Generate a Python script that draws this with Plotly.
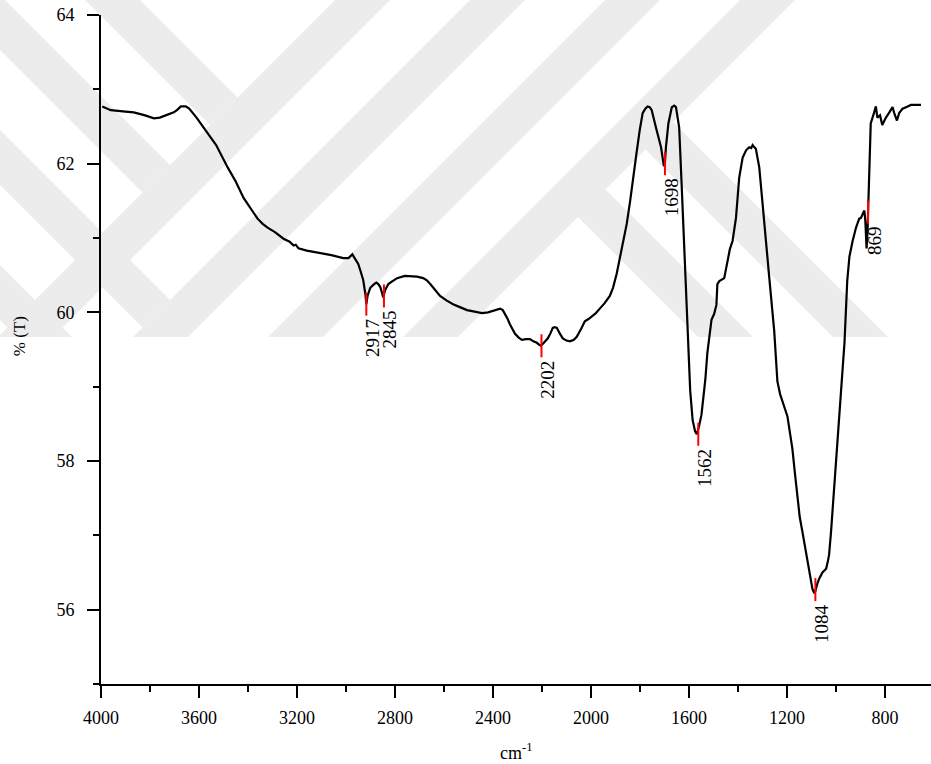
import plotly.graph_objects as go

# FTIR spectrum (wavenumber cm^-1, %T)
wavenumber = [
    3995, 3960, 3900, 3866, 3820, 3784, 3760, 3730, 3703, 3690, 3674, 3654, 3640, 3610,
    3565, 3530, 3483, 3450, 3418, 3390, 3361, 3340, 3320, 3290, 3255, 3230, 3214, 3205,
    3194, 3160, 3104, 3060, 3011, 2990, 2974, 2962, 2950, 2941, 2930, 2921, 2917, 2912,
    2901, 2885, 2876, 2868, 2860, 2852, 2848, 2840, 2827, 2810, 2791, 2760, 2738, 2710,
    2685, 2670, 2656, 2635, 2616, 2590, 2563, 2535, 2506, 2475, 2445, 2420, 2400, 2371,
    2360, 2351, 2340, 2331, 2320, 2310, 2295, 2282, 2265, 2249, 2235, 2221, 2210, 2204,
    2195, 2176, 2165, 2156, 2148, 2139, 2128, 2115, 2100, 2086, 2070, 2058, 2040, 2025,
    2010, 1993, 1980, 1964, 1945, 1923, 1910, 1895, 1880, 1866, 1854, 1840, 1830, 1815,
    1801, 1789, 1778, 1769, 1760, 1752, 1735, 1714, 1703, 1699, 1694, 1684, 1670, 1660,
    1653, 1640, 1630, 1619, 1605, 1595, 1585, 1575, 1568, 1560, 1549, 1540, 1533, 1525,
    1515, 1508, 1497, 1488, 1484, 1476, 1456, 1442, 1433, 1422, 1408, 1395, 1381, 1367,
    1354, 1346, 1340, 1333, 1327, 1313, 1293, 1272, 1252, 1239, 1228, 1219, 1208, 1198,
    1188, 1178, 1168, 1158, 1148, 1137, 1127, 1117, 1106, 1096, 1088, 1084, 1076, 1068,
    1055, 1040, 1033, 1028, 1020, 1015, 1007, 999, 993, 987, 981, 975, 965, 954,
    945, 932, 918, 905, 898, 890, 884, 880, 875, 871, 865, 858, 845, 837,
    831, 820, 811, 796, 782, 769, 762, 751, 742, 728, 714, 694, 670, 653,
]
transmittance = [
    62.77, 62.72, 62.70, 62.69, 62.65, 62.61, 62.62, 62.66, 62.69, 62.72, 62.77, 62.77, 62.74, 62.62,
    62.42, 62.25, 61.95, 61.76, 61.54, 61.40, 61.26, 61.19, 61.14, 61.08, 60.99, 60.95, 60.90, 60.91,
    60.86, 60.83, 60.80, 60.77, 60.73, 60.73, 60.78, 60.72, 60.65, 60.56, 60.44, 60.25, 60.11, 60.22,
    60.33, 60.38, 60.40, 60.38, 60.34, 60.25, 60.20, 60.30, 60.38, 60.42, 60.46, 60.49, 60.49, 60.48,
    60.46, 60.43, 60.38, 60.30, 60.22, 60.16, 60.11, 60.07, 60.03, 60.01, 59.99, 60.00, 60.02, 60.05,
    60.03, 59.98, 59.91, 59.84, 59.77, 59.71, 59.66, 59.63, 59.64, 59.64, 59.61, 59.59, 59.56, 59.55,
    59.58, 59.65, 59.72, 59.79, 59.80, 59.79, 59.72, 59.65, 59.62, 59.61, 59.63, 59.67, 59.78, 59.88,
    59.91, 59.95, 59.99, 60.05, 60.12, 60.22, 60.33, 60.52, 60.75, 60.97, 61.19, 61.50, 61.77, 62.12,
    62.45, 62.68, 62.74, 62.77, 62.76, 62.72, 62.49, 62.22, 61.98, 61.97, 62.22, 62.54, 62.76, 62.78,
    62.76, 62.49, 61.73, 60.83, 59.71, 58.95, 58.55, 58.40, 58.36, 58.45, 58.62, 58.85, 59.10, 59.45,
    59.75, 59.90, 59.98, 60.10, 60.38, 60.42, 60.46, 60.73, 60.85, 60.96, 61.27, 61.81, 62.08, 62.18,
    62.22, 62.21, 62.25, 62.22, 62.20, 61.95, 61.27, 60.46, 59.75, 59.07, 58.90, 58.82, 58.70, 58.60,
    58.40, 58.17, 57.85, 57.50, 57.25, 57.05, 56.85, 56.69, 56.48, 56.28, 56.22, 56.25, 56.35, 56.42,
    56.50, 56.55, 56.65, 56.74, 57.05, 57.28, 57.60, 57.95, 58.30, 58.63, 58.85, 59.10, 59.60, 60.42,
    60.75, 60.96, 61.14, 61.26, 61.27, 61.33, 61.37, 61.23, 60.86, 61.10, 61.95, 62.54, 62.68, 62.77,
    62.62, 62.65, 62.52, 62.62, 62.69, 62.76, 62.68, 62.58, 62.68, 62.74, 62.76, 62.79, 62.79, 62.79,
]

# Marked peaks
peak_positions = [2917, 2845, 2202, 1698, 1562, 1084, 869]
peak_levels = [60.11, 60.22, 59.55, 62.00, 58.36, 56.27, 61.35]
peak_labels = ["2917", "2845", "2202", "1698", "1562", "1084", "869"]

x_ticks = [4000, 3600, 3200, 2800, 2400, 2000, 1600, 1200, 800]
y_ticks = [56, 58, 60, 62, 64]

FONT = "Liberation Serif"
half = 0.155

W, H = 931, 764
ML, MR, MT, MB = 101, 0, 15, 80
PW, PH = W - ML - MR, H - MT - MB


def to_paper(px, py):
    return (px - ML) / PW, (H - MB - py) / PH


def path_from_pixels(points):
    parts = []
    for i, (px, py) in enumerate(points):
        x, y = to_paper(px, py)
        parts.append(("M" if i == 0 else "L") + f"{x:.5f},{y:.5f}")
    return " ".join(parts) + " Z"


# faint background watermark (diagonal bands), geometry in screen pixels
WM_BOTTOM = 337
wm_polys = []
for c1 in (335, 470, 605, 740):          # bands rising to the right: x + y = c
    c2 = c1 + 55
    wm_polys.append([(c1, 0), (c2, 0), (c2 - WM_BOTTOM, WM_BOTTOM), (c1 - WM_BOTTOM, WM_BOTTOM)])
for d1, c_end in ((85, 335), (-50, 335), (-185, 470)):   # left bands falling to the right, end on a rising band
    d2 = d1 + 55
    wm_polys.append([(d1, 0), (d2, 0), ((c_end + d2) / 2, (c_end - d2) / 2),
                     ((c_end + d1) / 2, (c_end - d1) / 2)])
wm_polys.append([(-320, 0), (-265, 0), (-265 + WM_BOTTOM, WM_BOTTOM), (-320 + WM_BOTTOM, WM_BOTTOM)])
for d1 in (361, 496):                     # right bands falling from the last rising band
    d2 = d1 + 55
    c0 = 770
    wm_polys.append([((c0 + d1) / 2, (c0 - d1) / 2), ((c0 + d2) / 2, (c0 - d2) / 2),
                     (d2 + WM_BOTTOM, WM_BOTTOM), (d1 + WM_BOTTOM, WM_BOTTOM)])

shapes = [dict(type="path", xref="paper", yref="paper", path=path_from_pixels(p),
               fillcolor="#ececec", line=dict(width=0), layer="below") for p in wm_polys]

mx, my = [], []
for p, lv in zip(peak_positions, peak_levels):
    mx += [p, p, None]
    my += [lv + half, lv - half, None]

fig = go.Figure()
fig.add_trace(go.Scatter(x=wavenumber, y=transmittance, mode="lines",
                         line=dict(color="black", width=2.2), hoverinfo="skip"))
fig.add_trace(go.Scatter(x=mx, y=my, mode="lines",
                         line=dict(color="#ff0000", width=2), hoverinfo="skip"))

for p, lv, t in zip(peak_positions, peak_levels, peak_labels):
    fig.add_annotation(x=p, y=lv - half, text=t, showarrow=False, textangle=-90,
                       xanchor="center", yanchor="top", xshift=6, yshift=-1,
                       font=dict(family=FONT, size=19, color="black"))

fig.add_annotation(xref="paper", yref="paper", x=-0.0987, y=0.52, text="% (T)",
                   showarrow=False, textangle=-90, xanchor="center", yanchor="middle",
                   font=dict(family=FONT, size=17, color="black"))
fig.add_annotation(xref="paper", yref="paper", x=0.5, y=-0.1016, text="cm<sup>-1</sup>",
                   showarrow=False, xanchor="center", yanchor="middle",
                   font=dict(family=FONT, size=18, color="black"))

fig.update_layout(
    width=W, height=H,
    margin=dict(l=ML, r=MR, t=MT, b=MB),
    paper_bgcolor="white", plot_bgcolor="rgba(0,0,0,0)",
    showlegend=False,
    font=dict(family=FONT, size=18, color="black"),
    shapes=shapes,
)
fig.update_xaxes(
    range=[4000, 612], tickvals=x_ticks, ticktext=[str(v) for v in x_ticks],
    showgrid=False, zeroline=False, showline=True, linecolor="black", linewidth=2,
    ticks="outside", ticklen=12, tickwidth=2, tickcolor="black",
    minor=dict(dtick=200, tick0=4000, ticks="outside", ticklen=6, tickwidth=2, tickcolor="black"),
    tickfont=dict(family=FONT, size=18, color="black"), ticklabelstandoff=4,
)
fig.update_yaxes(
    range=[55, 64], tickvals=y_ticks, ticktext=[str(v) for v in y_ticks],
    showgrid=False, zeroline=False, showline=True, linecolor="black", linewidth=2,
    ticks="outside", ticklen=12, tickwidth=2, tickcolor="black",
    minor=dict(dtick=1, tick0=55, ticks="outside", ticklen=6, tickwidth=2, tickcolor="black"),
    tickfont=dict(family=FONT, size=18, color="black"), ticklabelstandoff=9,
)

fig.write_html("out.html", config={"displayModeBar": False},
               post_script="document.body.style.margin='0px';document.body.style.overflow='hidden';")
